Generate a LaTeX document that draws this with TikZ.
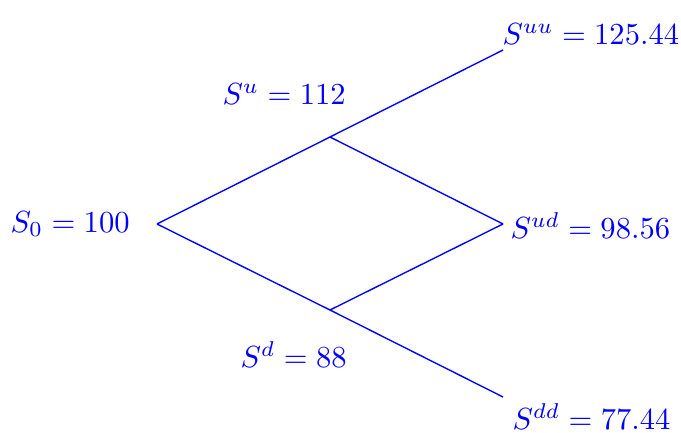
\documentclass[tikz,border=0pt]{standalone}
\definecolor{treeblue}{HTML}{0000FF}
\tikzset{
  price/.style={inner sep=0pt, text=treeblue, anchor=west},
  branch/.style={draw=treeblue, line width=0.45pt}
}
\begin{document}
\begin{tikzpicture}[x=0.0115cm,y=-0.0115cm]
  \useasboundingbox (0,0) rectangle (681,433);

  % Tree points.
  \coordinate (n0) at (157,224);
  \coordinate (nu) at (330,137);
  \coordinate (nd) at (330,310);
  \coordinate (nuu) at (503,50);
  \coordinate (nud) at (503,224);
  \coordinate (ndd) at (503,397);

  % Prices.
  \node[price] (s0) at (10,224) {$S_0=100$};
  \node[price] (su) at (222,94) {$S^u=112$};
  \node[price] (sd) at (240,355) {$S^d=88$};
  \node[price] (suu) at (502,34) {$S^{uu}=125.44$};
  \node[price] (sud) at (510,226) {$S^{ud}=98.56$};
  \node[price] (sdd) at (512,417) {$S^{dd}=77.44$};

  % Branches.
  \draw[branch] (n0) -- (nu) -- (nuu);
  \draw[branch] (n0) -- (nd) -- (ndd);
  \draw[branch] (nu) -- (nud);
  \draw[branch] (nd) -- (nud);
\end{tikzpicture}
\end{document}
